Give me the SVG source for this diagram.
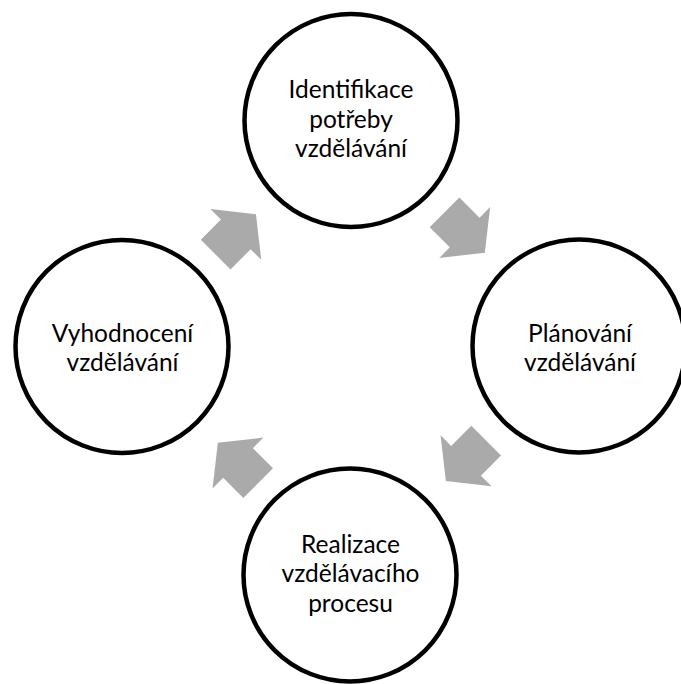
<svg xmlns="http://www.w3.org/2000/svg" width="681" height="684" viewBox="0 0 681 684">
<style>
.node circle{fill:#fff;stroke:#000;stroke-width:4.5}
.node text{font-family:Lato,"Open Sans","DejaVu Sans",sans-serif;font-size:24.5px;fill:#000;text-anchor:middle}
.arr{fill:#AAAAAA}
</style>
<defs>
<path id="ar" d="M-28.5,-21 L0,-21 L0,-36 L28.5,0 L0,36 L0,21 L-28.5,21 Z"/>
</defs>
<rect width="681" height="684" fill="#fff"/>
<g id="connectors">
<use href="#ar" class="arr" transform="translate(235.8,234.4) rotate(-45)"/>
<use href="#ar" class="arr" transform="translate(464.7,232.5) rotate(45)"/>
<use href="#ar" class="arr" transform="translate(466,460.8) rotate(135)"/>
<use href="#ar" class="arr" transform="translate(238,463) rotate(225)"/>
</g>
<g id="node-identifikace" class="node">
<circle cx="351" cy="120.5" r="106.5"/>
<text x="351" y="98.3">Identifikace</text>
<text x="351" y="127.6">potřeby</text>
<text x="351" y="156.9">vzdělávání</text>
</g>
<g id="node-planovani" class="node">
<circle cx="579" cy="346" r="106.5"/>
<text x="580" y="341.7">Plánování</text>
<text x="580" y="371">vzdělávání</text>
</g>
<g id="node-realizace" class="node">
<circle cx="350" cy="575" r="106.5"/>
<text x="350.5" y="553">Realizace</text>
<text x="350.5" y="582.3">vzdělávacího</text>
<text x="350.5" y="611.6">procesu</text>
</g>
<g id="node-vyhodnoceni" class="node">
<circle cx="122" cy="346.5" r="106.5"/>
<text x="122.5" y="341.7">Vyhodnocení</text>
<text x="122.5" y="371">vzdělávání</text>
</g>
</svg>
